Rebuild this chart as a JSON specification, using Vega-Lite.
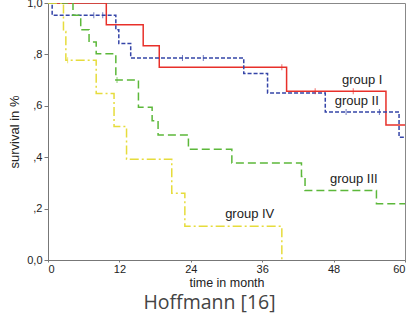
{
  "$schema": "https://vega.github.io/schema/vega-lite/v6.json",
  "autosize": "none",
  "width": 357,
  "height": 257,
  "padding": {"left": 48, "top": 3, "right": 1, "bottom": 60},
  "background": "white",
  "config": {
    "view": {"stroke": "#888", "strokeWidth": 1},
    "font": "Liberation Sans"
  },
  "title": {
    "text": "Hoffmann [16]",
    "orient": "bottom",
    "anchor": "middle",
    "dx": -17,
    "offset": 5,
    "font": "Open Sans",
    "fontSize": 19.5,
    "fontWeight": "normal",
    "color": "#444"
  },
  "datasets": {
    "curves": [
      {"group": "I", "t": 0, "s": 1.0},
      {"group": "I", "t": 9.8, "s": 0.915},
      {"group": "I", "t": 16, "s": 0.834},
      {"group": "I", "t": 18.7, "s": 0.75},
      {"group": "I", "t": 40.1, "s": 0.657},
      {"group": "I", "t": 56.8, "s": 0.525},
      {"group": "I", "t": 60, "s": 0.525},
      {"group": "II", "t": 0, "s": 1.0},
      {"group": "II", "t": 0.7, "s": 0.952},
      {"group": "II", "t": 11.4, "s": 0.896},
      {"group": "II", "t": 11.9, "s": 0.842},
      {"group": "II", "t": 13.9, "s": 0.786},
      {"group": "II", "t": 32.9, "s": 0.726},
      {"group": "II", "t": 36.9, "s": 0.65},
      {"group": "II", "t": 46.6, "s": 0.576},
      {"group": "II", "t": 59, "s": 0.478},
      {"group": "II", "t": 60, "s": 0.478},
      {"group": "III", "t": 0, "s": 1.0},
      {"group": "III", "t": 4.2, "s": 0.952},
      {"group": "III", "t": 5.5, "s": 0.896},
      {"group": "III", "t": 6.9, "s": 0.848},
      {"group": "III", "t": 8.1, "s": 0.803},
      {"group": "III", "t": 11.4, "s": 0.70},
      {"group": "III", "t": 15.2, "s": 0.594},
      {"group": "III", "t": 17.5, "s": 0.542},
      {"group": "III", "t": 18.5, "s": 0.486},
      {"group": "III", "t": 23.6, "s": 0.431},
      {"group": "III", "t": 30.9, "s": 0.377},
      {"group": "III", "t": 42.6, "s": 0.325},
      {"group": "III", "t": 43.2, "s": 0.27},
      {"group": "III", "t": 55.2, "s": 0.219},
      {"group": "III", "t": 60, "s": 0.219},
      {"group": "IV", "t": 0, "s": 1.0},
      {"group": "IV", "t": 2.6, "s": 0.889},
      {"group": "IV", "t": 3.0, "s": 0.777},
      {"group": "IV", "t": 8.1, "s": 0.648},
      {"group": "IV", "t": 11.1, "s": 0.519},
      {"group": "IV", "t": 13.2, "s": 0.392},
      {"group": "IV", "t": 20.8, "s": 0.26},
      {"group": "IV", "t": 23, "s": 0.131},
      {"group": "IV", "t": 39.3, "s": 0.0},
      {"group": "IV", "t": 39.4, "s": 0.0}
    ],
    "censored": [
      {"group": "I", "t": 39.3, "s": 0.75},
      {"group": "I", "t": 44.9, "s": 0.657},
      {"group": "I", "t": 51.3, "s": 0.657},
      {"group": "II", "t": 7.7, "s": 0.952},
      {"group": "II", "t": 9.2, "s": 0.952},
      {"group": "II", "t": 22.6, "s": 0.786},
      {"group": "II", "t": 26.1, "s": 0.786},
      {"group": "II", "t": 50.1, "s": 0.576},
      {"group": "II", "t": 55.7, "s": 0.576},
      {"group": "III", "t": 11.6, "s": 0.70},
      {"group": "IV", "t": 3.3, "s": 0.777}
    ],
    "labels": [
      {"label": "group I", "t": 52.8, "s": 0.70},
      {"label": "group II", "t": 51.9, "s": 0.62},
      {"label": "group III", "t": 51.4, "s": 0.315},
      {"label": "group IV", "t": 33.9, "s": 0.18}
    ]
  },
  "layer": [
    {
      "data": {"name": "curves"},
      "mark": {"type": "line", "interpolate": "step-after", "strokeWidth": 1.5, "clip": true},
      "encoding": {
        "x": {
          "field": "t", "type": "quantitative",
          "scale": {"domain": [0, 60], "nice": false, "zero": true},
          "axis": {
            "title": "time in month", "values": [0, 12, 24, 36, 48, 60],
            "grid": false, "domainColor": "#777", "tickColor": "#777", "tickSize": 2,
            "labelFontSize": 11, "labelColor": "#222", "labelPadding": 1,
            "titleFontSize": 12.5, "titleFontWeight": "normal", "titleColor": "#222", "titlePadding": 2
          }
        },
        "y": {
          "field": "s", "type": "quantitative",
          "scale": {"domain": [0, 1], "nice": false},
          "axis": {
            "title": "survival in %", "values": [0, 0.2, 0.4, 0.6, 0.8, 1.0],
            "labelExpr": "datum.value == 0 ? '0,0' : datum.value == 1 ? '1,0' : ',' + round(datum.value * 10)",
            "grid": false, "domainColor": "#777", "tickColor": "#777", "tickSize": 4,
            "labelFontSize": 11, "labelColor": "#222", "labelPadding": 2,
            "titleFontSize": 13, "titleFontWeight": "normal", "titleColor": "#222", "titlePadding": 5
          }
        },
        "color": {
          "field": "group", "type": "nominal",
          "scale": {"domain": ["I", "II", "III", "IV"], "range": ["#e8302a", "#3545a8", "#5cb83a", "#e6dc3c"]},
          "legend": null
        },
        "strokeDash": {
          "field": "group", "type": "nominal",
          "scale": {"domain": ["I", "II", "III", "IV"], "range": [[1, 0], [4, 2], [8, 4], [9, 3, 2, 3]]},
          "legend": null
        }
      }
    },
    {
      "data": {"name": "censored"},
      "mark": {"type": "tick", "orient": "vertical", "size": 6, "thickness": 1, "clip": true},
      "encoding": {
        "x": {"field": "t", "type": "quantitative"},
        "y": {"field": "s", "type": "quantitative"},
        "color": {
          "field": "group", "type": "nominal",
          "scale": {"domain": ["I", "II", "III", "IV"], "range": ["#e8302a", "#3545a8", "#5cb83a", "#e6dc3c"]},
          "legend": null
        }
      }
    },
    {
      "data": {"name": "labels"},
      "mark": {"type": "text", "fontSize": 13, "color": "#222", "align": "center", "baseline": "middle"},
      "encoding": {
        "x": {"field": "t", "type": "quantitative"},
        "y": {"field": "s", "type": "quantitative"},
        "text": {"field": "label"}
      }
    }
  ]
}
